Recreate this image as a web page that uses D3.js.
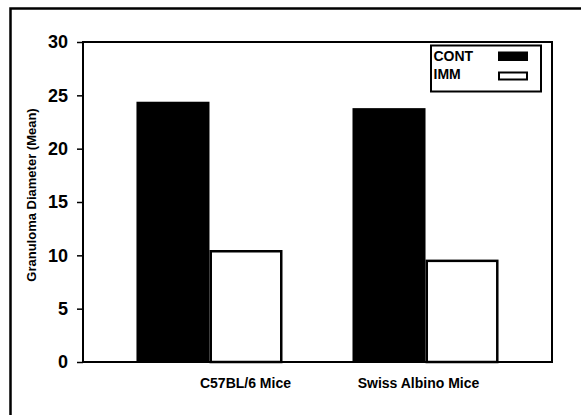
<!DOCTYPE html>
<html>
<head>
<meta charset="utf-8">
<script src="https://cdn.jsdelivr.net/npm/d3@7"></script>
<style>
  html, body { margin: 0; padding: 0; background: #fff; }
  svg { display: block; }
  text { font-family: "Liberation Sans", Arial, sans-serif; font-weight: bold; fill: #000; }
</style>
</head>
<body>
<script>
// ---- data ----
const categories = ["C57BL/6 Mice", "Swiss Albino Mice"];
const seriesNames = ["CONT", "IMM"];
const contValues = [24.4, 23.8];
const immValues = [10.5, 9.6];
const yTicks = [0, 5, 10, 15, 20, 25, 30];
const yTitle = "Granuloma Diameter (Mean)";

// ---- layout ----
const W = 581, H = 415;
const plot = { left: 83, top: 42, right: 552, bottom: 362 };
const labelShift = [36, -7]; // category label offsets as drawn in original

const svg = d3.select("body").append("svg").attr("width", W).attr("height", H);
svg.append("rect").attr("width", W).attr("height", H).attr("fill", "#fff");

// outer frame (left and top only)
svg.append("path")
  .attr("d", `M10.5,${H} L10.5,8.5 L${W},8.5`)
  .attr("fill", "none").attr("stroke", "#000").attr("stroke-width", 2.5);

const y = d3.scaleLinear().domain([0, 30]).range([plot.bottom, plot.top]);
const x0 = d3.scaleBand().domain(categories).range([plot.left, plot.right])
  .paddingInner(0.324).paddingOuter(0.2475);
const x1 = d3.scaleBand().domain(seriesNames).range([0, x0.bandwidth()]);

const rows = categories.map((c, i) => ({ cat: c, vals: [contValues[i], immValues[i]] }));

const groups = svg.append("g").selectAll("g").data(rows).join("g")
  .attr("transform", d => `translate(${x0(d.cat)},0)`);

const sw = 2.5;
groups.selectAll("rect").data(d => d.vals.map((v, j) => ({ s: seriesNames[j], v }))).join("rect")
  .attr("x", d => d.s === "CONT" ? x1(d.s) : x1(d.s) + sw / 2)
  .attr("width", d => d.s === "CONT" ? x1.bandwidth() : x1.bandwidth() - sw)
  .attr("y", d => d.s === "CONT" ? y(d.v) : y(d.v) + sw / 2)
  .attr("height", d => d.s === "CONT" ? y(0) - y(d.v) : y(0) - y(d.v) - sw / 2)
  .attr("fill", d => d.s === "CONT" ? "#000" : "#fff")
  .attr("stroke", d => d.s === "CONT" ? "none" : "#000")
  .attr("stroke-width", sw);

// plot frame
svg.append("rect")
  .attr("x", plot.left).attr("y", plot.top)
  .attr("width", plot.right - plot.left).attr("height", plot.bottom - plot.top)
  .attr("fill", "none").attr("stroke", "#000").attr("stroke-width", 2);

// y axis
const yAxis = svg.append("g").attr("transform", `translate(${plot.left},0)`)
  .call(d3.axisLeft(y).tickValues(yTicks).tickSize(6).tickPadding(9).tickFormat(d3.format("d")));
yAxis.select(".domain").remove();
yAxis.selectAll(".tick line").attr("stroke", "#000").attr("stroke-width", 1.5);
yAxis.selectAll(".tick text")
  .attr("font-family", "Liberation Sans, Arial, sans-serif")
  .attr("font-weight", "bold").attr("font-size", 18).attr("fill", "#000");

// y title
svg.append("text")
  .attr("transform", "translate(35.5,195) rotate(-90)")
  .attr("text-anchor", "middle").attr("font-size", 13)
  .text(yTitle);

// x category labels
svg.append("g").selectAll("text").data(categories).join("text")
  .attr("x", (d, i) => x0(d) + x0.bandwidth() / 2 + labelShift[i])
  .attr("y", 388)
  .attr("text-anchor", "middle").attr("font-size", 14)
  .text(d => d);

// legend
const lg = svg.append("g");
lg.append("rect").attr("x", 431).attr("y", 45.5).attr("width", 110).attr("height", 46)
  .attr("fill", "#fff").attr("stroke", "#000").attr("stroke-width", 2);
seriesNames.forEach((s, i) => {
  lg.append("text").attr("x", 433.5).attr("y", 61 + i * 18).attr("font-size", 14).text(s);
  if (s === "CONT") {
    lg.append("rect").attr("x", 498).attr("y", 51.5 + i * 20).attr("width", 30).attr("height", 9.5).attr("fill", "#000");
  } else {
    lg.append("rect").attr("x", 499).attr("y", 72.5).attr("width", 28).attr("height", 7)
      .attr("fill", "#fff").attr("stroke", "#000").attr("stroke-width", 2);
  }
});
</script>
</body>
</html>
